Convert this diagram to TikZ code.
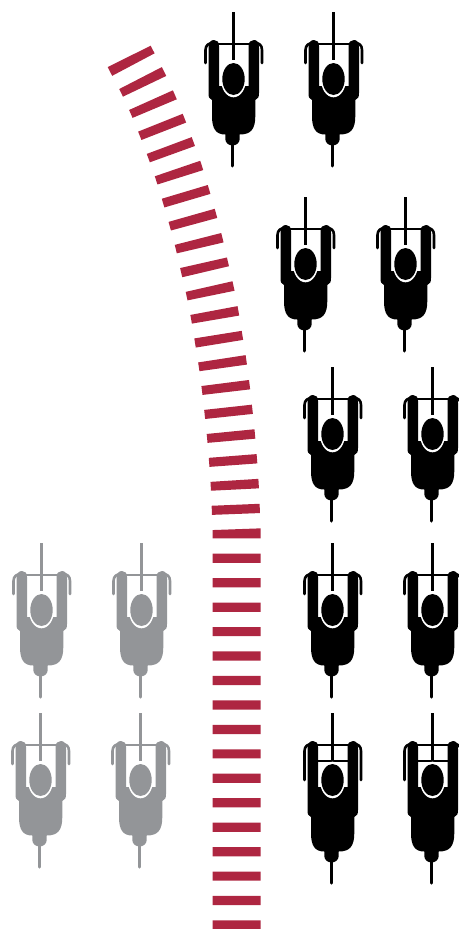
\documentclass[tikz,border=0pt]{standalone}
\usepackage{tikz}
\definecolor{stripered}{HTML}{AE2641}
\definecolor{ridergray}{HTML}{939598}
\tikzset{
    stripes/.style={draw=stripered, line width=48pt, dash pattern=on 9.2pt off 15.25pt},
    pics/rider/.style 2 args={code={
        % Wheels and bars
        \draw[#1, line width=3pt] (0,0) -- (0,48);
        \draw[#1, line width=3pt, line cap=round] (-1,130) -- (-1,154+#2);
        \draw[#1, line width=2pt] (-22,32) -- (24,32);
        \draw[#1, line width=2pt] (-14,32+#2) -- (16,32+#2);
        \draw[#1, line width=2.6pt, line cap=round] (-27.5,51+#2) -- (-27.5,38) .. controls (-27.5,33) and (-24,31) .. (-20,31);
        \draw[#1, line width=2.6pt, line cap=round] (29,51+#2) -- (29,38) .. controls (29,33) and (26,31) .. (22,31);
        % Arms and body
        \fill[#1] (-24.5,36) .. controls (-24.5,30) and (-22,28) .. (-19,28)
            .. controls (-16,28) and (-14,30) .. (-14,34) -- (-14,74) -- (15.5,74) -- (15.5,34)
            .. controls (15.5,30) and (18,28) .. (21,28)
            .. controls (24,28) and (26,30) .. (26,36) -- (26,{81+#2})
            .. controls (26,{85+#2}) and (25,{87+#2}) .. (22.3,{88+#2}) -- (22.3,{104+#2})
            .. controls (22.3,{117+#2}) and (18,{122.5+#2}) .. (6.7,{122.5+#2}) -- (6.7,{127+#2})
            .. controls (6.7,{131+#2}) and (3,{133.5+#2}) .. (-0.5,{133.5+#2})
            .. controls (-4,{133.5+#2}) and (-7.7,{131+#2}) .. (-7.7,{127+#2}) -- (-7.7,{122.5+#2})
            .. controls (-17,{122.5+#2}) and (-21,{117+#2}) .. (-21,{104+#2}) -- (-21,{88+#2})
            .. controls (-24,{87+#2}) and (-24.5,{85+#2}) .. (-24.5,{81+#2}) -- cycle;
        % Head
        \fill[white] (0.5,67) ellipse (12.6 and 18.3);
        \fill[#1] (0.5,67) ellipse (11.2 and 16);
    }}
}
\begin{document}
\begin{tikzpicture}[x=1pt, y=-1pt]
    \useasboundingbox (0,0) rectangle (458,929);

    % Stripes
    \draw[stripes] (236.7,929.6) -- (236.7,557.6) -- plot[smooth] coordinates {(236.7,533.7) (235.8,509.3) (234.7,485) (233,460) (231,436) (228.5,411.7) (225.7,387) (222.5,363) (218.7,339) (214.7,314.7) (210,290.7) (204.5,267) (199,243) (192.8,219.5) (186,196) (178.8,172.5) (170.7,149.5) (162,126.7) (152.7,104) (142.5,82) (131,60) (128,54)};

    % Front pairs
    \pic at (233,12) {rider={black}{0}};
    \pic at (333,12) {rider={black}{0}};
    \pic at (305,197) {rider={black}{0}};
    \pic at (405,197) {rider={black}{0}};
    \pic at (332,367) {rider={black}{0}};
    \pic at (432,367) {rider={black}{0}};
    \pic at (332,543) {rider={black}{0}};
    \pic at (432,543) {rider={black}{0}};

    % Last pair is longer
    \pic at (332,713) {rider={black}{16}};
    \pic at (432,713) {rider={black}{16}};

    % Gray riders
    \pic at (41,543) {rider={ridergray}{0}};
    \pic at (141,543) {rider={ridergray}{0}};
    \pic at (40,713) {rider={ridergray}{0}};
    \pic at (140,713) {rider={ridergray}{0}};
\end{tikzpicture}
\end{document}
